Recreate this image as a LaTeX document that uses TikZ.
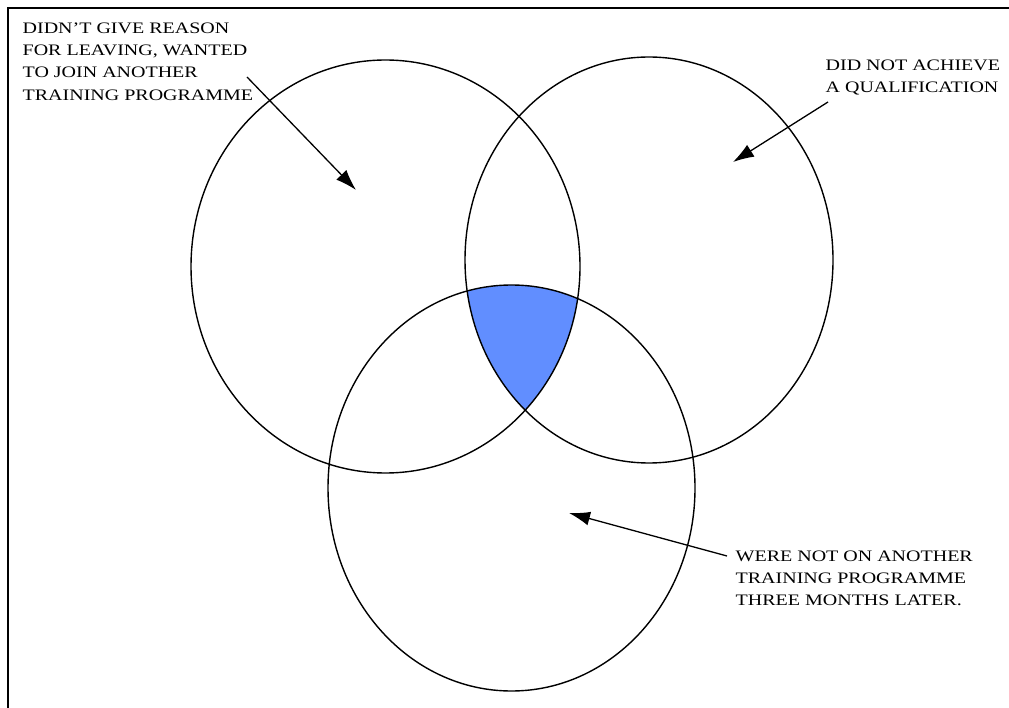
\documentclass[tikz,border=0pt]{standalone}
\usepackage{fontspec}
\setmainfont{Liberation Serif}[FakeStretch=1.25]
\usetikzlibrary{arrows.meta}
\definecolor{overlapblue}{RGB}{97,142,255}
\tikzset{
  setlabel/.style={anchor=north west, inner sep=0pt, align=left,
    font=\fontsize{16}{22.3}\selectfont},
  setring/.style={draw, line width=1.4pt}
}
\begin{document}
\begin{tikzpicture}[x=1pt, y=-1pt, >={Latex[length=21pt,width=14pt]}, line width=1.3pt]
\useasboundingbox (0,0) rectangle (1009,708);
% frame
\draw[line width=2pt] (8,708) -- (8,8) -- (1009,8);
% centres of the three sets
\coordinate (leftset) at (385.5,266.5);
\coordinate (rightset) at (649,260);
\coordinate (lowset) at (511.5,488);
% shaded overlap of all three
\begin{scope}
  \clip (leftset) ellipse [x radius=194.5, y radius=206.5];
  \clip (rightset) ellipse [x radius=184, y radius=203];
  \fill[overlapblue] (lowset) ellipse [x radius=183.5, y radius=203];
\end{scope}
\draw[setring] (leftset) ellipse [x radius=194.5, y radius=206.5];
\draw[setring] (rightset) ellipse [x radius=184, y radius=203];
\draw[setring] (lowset) ellipse [x radius=183.5, y radius=203];
% labels
\node[setlabel] (leaving) at (22,22) {DIDN’T GIVE REASON\\FOR LEAVING, WANTED\\TO JOIN ANOTHER\\TRAINING PROGRAMME};
\node[setlabel] (noqual) at (825,59) {DID NOT ACHIEVE\\A QUALIFICATION};
\node[setlabel] (notraining) at (735,550) {WERE NOT ON ANOTHER\\TRAINING PROGRAMME\\THREE MONTHS LATER.};
% pointers
\coordinate (leavingtail) at (247,77);
\coordinate (leavingtip) at (356,190);
\coordinate (noqualtail) at (828,102);
\coordinate (noqualtip) at (733,162);
\coordinate (notrainingtail) at (727,556);
\coordinate (notrainingtip) at (569,513);
\draw[->] (leavingtail) -- (leavingtip);
\draw[->] (noqualtail) -- (noqualtip);
\draw[->] (notrainingtail) -- (notrainingtip);
\end{tikzpicture}
\end{document}
